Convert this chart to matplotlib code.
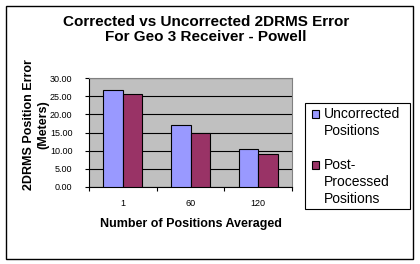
import matplotlib
matplotlib.use("Agg")
import matplotlib.pyplot as plt
from matplotlib.patches import Rectangle
import numpy as np

categories = ["1", "60", "120"]
uncorrected = [26.7, 17.1, 10.5]
post_processed = [25.6, 14.9, 9.1]
series_names = ["Uncorrected\nPositions", "Post-\nProcessed\nPositions"]
series_colors = ['#9999FF', '#993366']
yticks = [0, 5, 10, 15, 20, 25, 30]

plt.rcParams['font.family'] = ['Liberation Sans', 'DejaVu Sans']

W, H = 420, 264
fig = plt.figure(figsize=(W/100, H/100), dpi=100)
fig.patch.set_facecolor('white')

def fx(px):
    return px / W

def fy(py):
    return 1 - py / H

# outer border
fig.add_artist(Rectangle((fx(5.5), fy(258.5)), fx(413 - 5.5), (258.5 - 6) / H,
                         transform=fig.transFigure, fill=False, edgecolor='black', lw=1))

ax = fig.add_axes([fx(89), fy(187), fx(292 - 89), (187 - 78) / H])
ax.set_facecolor('#C0C0C0')
x = np.arange(len(categories))
w = 0.29
ax.bar(x - w/2, uncorrected, w, color=series_colors[0], edgecolor='black', lw=0.8, zorder=3)
ax.bar(x + w/2, post_processed, w, color=series_colors[1], edgecolor='black', lw=0.8, zorder=3)
ax.set_xlim(-0.5, len(categories) - 0.5)
ax.set_ylim(0, 30)
ax.set_yticks(yticks)
ax.set_yticklabels([f"{v:.2f}" for v in yticks], fontsize=6.5)
ax.yaxis.grid(True, color='black', lw=0.8, zorder=1)
ax.set_axisbelow(True)
ax.set_xticks(x)
ax.set_xticklabels(categories, fontsize=6.5)
ax.tick_params(axis='x', length=0, pad=9)
ax.set_xticks(np.arange(-0.5, len(categories)), minor=True)
ax.tick_params(axis='x', which='minor', length=3, direction='out', width=0.8)
ax.tick_params(axis='y', length=3, direction='out', width=0.8, pad=9)
for s in ['top', 'right']:
    ax.spines[s].set_color('#808080')
    ax.spines[s].set_linewidth(0.8)
for s in ['left', 'bottom']:
    ax.spines[s].set_linewidth(0.8)

fig.text(fx(190.5), fy(224), "Number of Positions Averaged", ha='center', va='center',
         fontsize=9, fontweight='bold')

fig.text(fx(36), fy(125), "2DRMS Position Error\n(Meters)", rotation=90,
         ha='center', va='center', fontsize=9, fontweight='bold',
         multialignment='center', linespacing=1.2)

fig.text(fx(206), fy(29.5), "Corrected vs Uncorrected 2DRMS Error\nFor Geo 3 Receiver - Powell",
         ha='center', va='center', fontsize=11, fontweight='bold', linespacing=1.15)

# legend (drawn in figure coordinates)
fig.add_artist(Rectangle((fx(305), fy(208.5)), fx(410 - 305), (208.5 - 103) / H,
                         transform=fig.transFigure, facecolor='white',
                         edgecolor='black', lw=0.8))
entry_tops = [114, 165]
for name, color, ytop in zip(series_names, series_colors, entry_tops):
    fig.add_artist(Rectangle((fx(311.5), fy(ytop + 3.5)), fx(7.5), 7.5 / H,
                             transform=fig.transFigure, facecolor=color,
                             edgecolor='black', lw=0.8))
    fig.text(fx(323.5), fy(ytop - 7), name, ha='left', va='top', fontsize=10,
             linespacing=1.27)

fig.savefig("out.png", dpi=100)
